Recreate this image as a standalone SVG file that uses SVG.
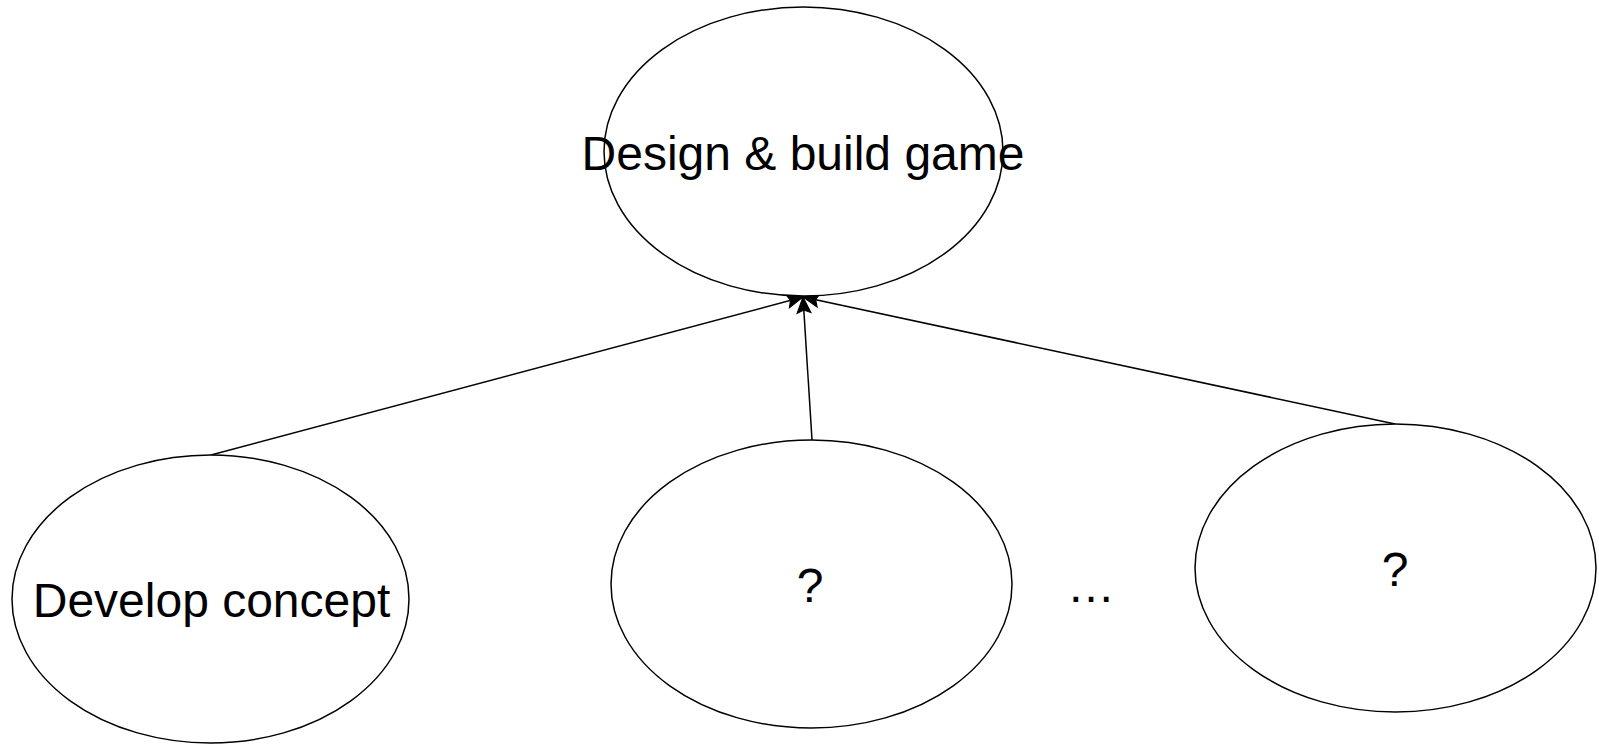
<svg xmlns="http://www.w3.org/2000/svg" width="1599" height="744" viewBox="0 0 1599 744">
<style>
.node ellipse{fill:#fff;stroke:#000;stroke-width:1.5}
.lbl{font-family:"Liberation Sans",Arial,sans-serif;font-size:48px;fill:#000;text-anchor:middle}
.edge{fill:none;stroke:#000;stroke-width:1.5}
</style>
<defs>
<marker id="arr" markerUnits="userSpaceOnUse" viewBox="-19 -9 22 18" refX="0" refY="0" markerWidth="22" markerHeight="18" orient="auto">
<path d="M0,0 L-16,-7 L-13,0 L-16,7 Z" fill="#000" stroke="#000" stroke-width="1" stroke-linejoin="miter"/>
</marker>
</defs>
<rect width="1599" height="744" fill="#fff"/>
<g id="connectors">
<line class="edge" x1="211" y1="455" x2="803" y2="297" marker-end="url(#arr)"/>
<line class="edge" x1="812" y1="440" x2="803" y2="297" marker-end="url(#arr)"/>
<line class="edge" x1="1395" y1="424" x2="803" y2="297" marker-end="url(#arr)"/>
</g>
<g id="design-build-game" class="node">
<ellipse cx="803.5" cy="151.5" rx="199.5" ry="144.5"/>
<text class="lbl" x="803" y="170">Design &amp; build game</text>
</g>
<g id="develop-concept" class="node">
<ellipse cx="210.5" cy="599" rx="198.5" ry="144"/>
<text class="lbl" x="211.5" y="617">Develop concept</text>
</g>
<g id="task-2" class="node">
<ellipse cx="811.5" cy="584" rx="200.5" ry="144"/>
<text class="lbl" x="810" y="602">?</text>
</g>
<g id="ellipsis">
<text class="lbl" x="1091" y="602">…</text>
</g>
<g id="task-n" class="node">
<ellipse cx="1395.5" cy="568" rx="200.5" ry="144"/>
<text class="lbl" x="1395" y="586">?</text>
</g>
</svg>
